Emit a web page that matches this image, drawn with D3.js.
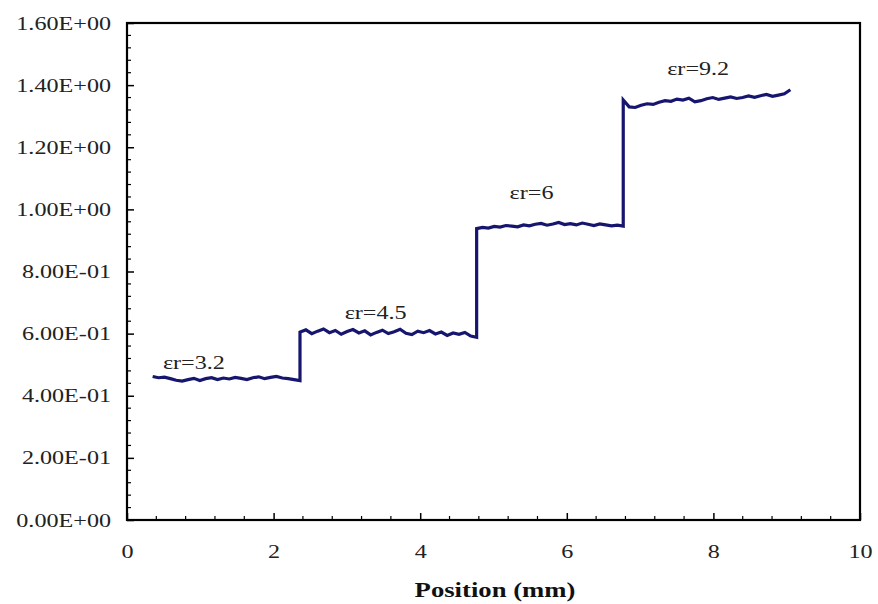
<!DOCTYPE html>
<html>
<head>
<meta charset="utf-8">
<script src="https://cdn.jsdelivr.net/npm/d3@7"></script>
<style>
  html, body { margin: 0; padding: 0; background: #fff; }
  svg { display: block; }
</style>
</head>
<body>
<script>
// Segment boundaries (position in mm) and measured values for each permittivity region
const segBounds = [[0.35, 2.36], [2.36, 4.77], [4.77, 6.77], [6.77, 9.05]];

const seg1 = [0.462, 0.458, 0.460, 0.455, 0.450, 0.447, 0.452, 0.456, 0.449, 0.455, 0.458, 0.452, 0.457,
              0.454, 0.459, 0.456, 0.452, 0.458, 0.461, 0.455, 0.459, 0.462, 0.457, 0.455, 0.452, 0.449];
const seg2 = [0.605, 0.612, 0.600, 0.608, 0.615, 0.603, 0.610, 0.598, 0.607, 0.613, 0.602, 0.609, 0.596,
              0.604, 0.611, 0.600, 0.606, 0.614, 0.601, 0.597, 0.608, 0.603, 0.610, 0.599, 0.605, 0.594,
              0.602, 0.598, 0.604, 0.592, 0.588];
const seg3 = [0.938, 0.942, 0.940, 0.945, 0.943, 0.948, 0.946, 0.944, 0.950, 0.947, 0.952, 0.955, 0.949,
              0.953, 0.958, 0.951, 0.954, 0.950, 0.956, 0.952, 0.948, 0.953, 0.950, 0.947, 0.949, 0.946];
const seg4 = [1.352, 1.330, 1.328, 1.335, 1.340, 1.338, 1.345, 1.350, 1.348, 1.355, 1.352, 1.358, 1.346,
              1.350, 1.356, 1.360, 1.354, 1.358, 1.362, 1.357, 1.360, 1.365, 1.361, 1.366, 1.370, 1.364,
              1.368, 1.372, 1.385];

const labels = ["\u03b5r=3.2", "\u03b5r=4.5", "\u03b5r=6", "\u03b5r=9.2"];
const labelPos = [[0.49, 0.486], [2.97, 0.647], [5.22, 1.033], [7.37, 1.433]];

const xTicks = [0, 2, 4, 6, 8, 10];
const yTicks = [0, 0.2, 0.4, 0.6, 0.8, 1.0, 1.2, 1.4, 1.6];
const yTickLabels = ["0.00E+00", "2.00E-01", "4.00E-01", "6.00E-01", "8.00E-01",
                     "1.00E+00", "1.20E+00", "1.40E+00", "1.60E+00"];

// Dimensions
const width = 878;
const height = 604;
const margin = { top: 23, right: 18, bottom: 84, left: 127 };
const font = "'Liberation Serif', 'Times New Roman', serif";
const stretch = 1.27; // the scanned text is wider than plain Times

// Build the point list: sample positions spread evenly across each segment
const segs = [seg1, seg2, seg3, seg4];
const data = [];
segs.forEach((vals, s) => {
    const [a, b] = segBounds[s];
    vals.forEach((v, i) => {
        data.push({ x: a + i * (b - a) / (vals.length - 1), y: v });
    });
});

// Scales
const x = d3.scaleLinear().domain([0, 10]).range([margin.left, width - margin.right]);
const y = d3.scaleLinear().domain([0, 1.6]).range([height - margin.bottom, margin.top]);

const svg = d3.select("body").append("svg")
    .attr("width", width)
    .attr("height", height)
    .style("background", "#fff");

// widen text to match the scan
function widen(sel) {
    sel.each(function() {
        const w = this.getComputedTextLength();
        d3.select(this)
            .attr("textLength", w * stretch)
            .attr("lengthAdjust", "spacingAndGlyphs");
    });
}

// Minor ticks
const xMinor = d3.range(0, 10.001, 0.4).filter(v => Math.abs(v / 2 - Math.round(v / 2)) > 1e-6);
const yMinor = d3.range(0, 1.6001, 0.04).filter(v => Math.abs(v / 0.2 - Math.round(v / 0.2)) > 1e-6);

svg.append("g")
    .selectAll("line.xm")
    .data(xMinor)
    .join("line")
    .attr("x1", d => x(d)).attr("x2", d => x(d))
    .attr("y1", y(0)).attr("y2", y(0) - 4)
    .attr("stroke", "#000").attr("stroke-width", 1.2);

svg.append("g")
    .selectAll("line.ym")
    .data(yMinor)
    .join("line")
    .attr("x1", x(0)).attr("x2", x(0) + 4)
    .attr("y1", d => y(d)).attr("y2", d => y(d))
    .attr("stroke", "#000").attr("stroke-width", 1.2);

// X axis
const xAxis = svg.append("g")
    .attr("transform", `translate(0,${y(0)})`)
    .call(d3.axisBottom(x).tickValues(xTicks).tickSize(-7).tickPadding(25).tickSizeOuter(0));

// Y axis
const yAxis = svg.append("g")
    .attr("transform", `translate(${x(0)},0)`)
    .call(d3.axisLeft(y).tickValues(yTicks).tickSize(-7).tickPadding(16).tickSizeOuter(0)
        .tickFormat((d, i) => yTickLabels[i]));

[xAxis, yAxis].forEach(g => {
    g.select(".domain").remove();
    g.selectAll(".tick line").attr("stroke", "#000").attr("stroke-width", 1.5);
    g.selectAll(".tick text")
        .attr("fill", "#222")
        .style("font-family", font)
        .style("font-size", "19px")
        .call(widen);
});

// Plot frame
svg.append("rect")
    .attr("x", x(0))
    .attr("y", y(1.6))
    .attr("width", x(10) - x(0))
    .attr("height", y(0) - y(1.6))
    .attr("fill", "none")
    .attr("stroke", "#000")
    .attr("stroke-width", 2.2);

// Data line
const line = d3.line()
    .x(d => x(d.x))
    .y(d => y(d.y));

svg.append("path")
    .datum(data)
    .attr("fill", "none")
    .attr("stroke", "#16166e")
    .attr("stroke-width", 3.2)
    .attr("stroke-linejoin", "miter")
    .attr("d", line);

// Region labels
svg.append("g")
    .selectAll("text")
    .data(labels)
    .join("text")
    .attr("x", (d, i) => x(labelPos[i][0]))
    .attr("y", (d, i) => y(labelPos[i][1]))
    .attr("fill", "#222")
    .style("font-family", font)
    .style("font-size", "19px")
    .text(d => d)
    .call(widen);

// X axis title
svg.append("text")
    .attr("x", 495)
    .attr("y", 597)
    .attr("text-anchor", "middle")
    .attr("fill", "#111")
    .style("font-family", font)
    .style("font-size", "21px")
    .style("font-weight", "bold")
    .text("Position (mm)")
    .call(widen);
</script>
</body>
</html>
